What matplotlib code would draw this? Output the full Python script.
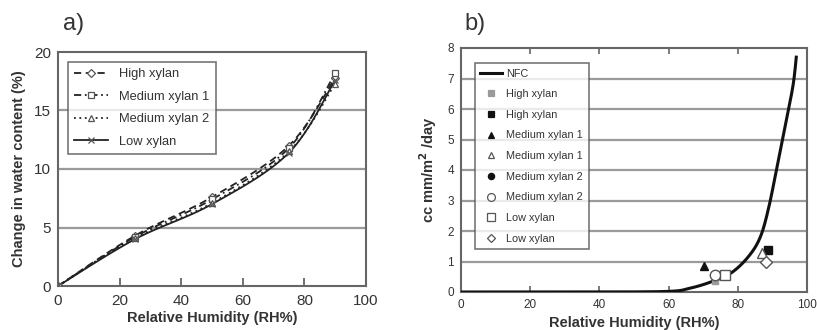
import numpy as np
import matplotlib
matplotlib.use("Agg")
import matplotlib.pyplot as plt
from matplotlib.lines import Line2D

plt.rcParams['font.family'] = ['Liberation Sans', 'DejaVu Sans']

# ---------- data: panel a ----------
rh_a = [0, 25, 50, 75, 90]
high_xylan = [0, 4.3, 7.6, 12.0, 17.8]
medium_xylan_1 = [0, 4.2, 7.4, 11.8, 18.2]
medium_xylan_2 = [0, 4.1, 7.1, 11.5, 17.3]
low_xylan = [0, 4.0, 7.0, 11.4, 17.6]
series_a_labels = ["High xylan", "Medium xylan 1", "Medium xylan 2", "Low xylan"]

# ---------- data: panel b ----------
nfc_x = [0, 20, 40, 60, 66, 72, 78, 83, 86.5, 89, 91.5, 94, 96, 96.9]
nfc_y = [0, 0, 0, 0.02, 0.12, 0.32, 0.62, 1.15, 1.8, 2.8, 4.2, 5.6, 6.8, 7.7]
pts_labels = ["High xylan", "High xylan", "Medium xylan 1", "Medium xylan 1",
              "Medium xylan 2", "Medium xylan 2", "Low xylan", "Low xylan"]
pts_x = [73.5, 88.7, 70.3, 87.0, 73.7, 73.5, 76.4, 88.2]
pts_y = [0.35, 1.37, 0.84, 1.28, 0.55, 0.57, 0.57, 0.98]

TXT = '#333333'
LINE = '#222222'
GRID = '#9a9a9a'


def smooth(x, y, n=30):
    x = np.asarray(x, float); y = np.asarray(y, float)
    P = np.column_stack([x, y])
    P = np.vstack([P[0], P, P[-1]])
    out = []
    t = np.linspace(0, 1, n)[:, None]
    for i in range(1, len(P) - 2):
        p0, p1, p2, p3 = P[i - 1], P[i], P[i + 1], P[i + 2]
        c1 = p1 + (p2 - p0) / 6
        c2 = p2 - (p3 - p1) / 6
        seg = ((1 - t) ** 3) * p1 + 3 * ((1 - t) ** 2) * t * c1 + 3 * (1 - t) * t ** 2 * c2 + t ** 3 * p2
        out.append(seg if i == 1 else seg[1:])
    out = np.vstack(out)
    return out[:, 0], out[:, 1]


fig = plt.figure(figsize=(8.17, 3.30), dpi=100)

# ---------- panel a ----------
ax = fig.add_axes([58 / 817, 1 - 286 / 330, 308 / 817, 234 / 330])
styles = [
    dict(ls=(0, (4, 2.5)), marker='D', ms=4),
    dict(ls=(0, (4, 2, 1, 2)), marker='s', ms=5),
    dict(ls=(0, (1, 2)), marker='^', ms=5),
    dict(ls='-', marker='x', ms=5),
]
handles = []
for ys, st, lab in zip([high_xylan, medium_xylan_1, medium_xylan_2, low_xylan], styles, series_a_labels):
    sx, sy = smooth(rh_a, ys)
    ax.plot(sx, sy, color=LINE, lw=1.3, ls=st['ls'], zorder=3)
    mfc = 'white' if st['marker'] != 'x' else LINE
    ax.plot(rh_a, ys, ls='none', marker=st['marker'], ms=st['ms'], mfc=mfc, mec='#555555', mew=0.9, zorder=4)
    handles.append(Line2D([], [], color=LINE, lw=1.3, ls=st['ls'], marker=st['marker'], ms=st['ms'],
                          mfc=mfc, mec='#555555', mew=0.9))
ax.set_xlim(0, 100)
ax.set_ylim(0, 20)
ax.set_xticks([0, 20, 40, 60, 80, 100])
ax.set_yticks([0, 5, 10, 15, 20])
for v in [5, 10, 15]:
    ax.axhline(v, color=GRID, lw=1.6, zorder=1)
ax.tick_params(axis='x', direction='in', length=6, width=1.3, color='#666666', labelsize=11, labelcolor=TXT, pad=6)
ax.tick_params(axis='y', length=0, labelsize=11, labelcolor=TXT, pad=5)
for s in ax.spines.values():
    s.set_color('#666666'); s.set_linewidth(1.5)
ax.set_xlabel("Relative Humidity (RH%)", fontsize=10.5, fontweight='bold', color=TXT, labelpad=2)
ax.set_ylabel("Change in water content (%)", fontsize=10.5, fontweight='bold', color=TXT, labelpad=6)
leg = ax.legend(handles, series_a_labels, loc='upper left', bbox_to_anchor=(0.01, 0.985), fontsize=9.3,
                handlelength=2.6, labelspacing=0.8, borderpad=0.5, fancybox=False, frameon=True,
                edgecolor='#555555', labelcolor=TXT, handletextpad=0.9)
leg.get_frame().set_linewidth(1.2)
fig.text(63 / 817, 1 - 30 / 330, "a)", fontsize=17, color=TXT)

# ---------- panel b ----------
bx = fig.add_axes([461 / 817, 1 - 292 / 330, 346 / 817, 244 / 330])
for v in range(1, 8):
    bx.axhline(v, color=GRID, lw=1.6, zorder=1)
nx, ny = smooth(nfc_x, nfc_y, n=20)
bx.plot(nx, ny, color='#111111', lw=2.2, zorder=3, label="NFC")
markers_b = [
    dict(marker='s', mfc='#9a9a9a', mec='#9a9a9a', ms=5),
    dict(marker='s', mfc='#111111', mec='#111111', ms=5.5),
    dict(marker='^', mfc='#111111', mec='#111111', ms=6),
    dict(marker='^', mfc='white', mec='#555555', ms=6.5),
    dict(marker='o', mfc='#111111', mec='#111111', ms=6),
    dict(marker='o', mfc='white', mec='#555555', ms=7.5),
    dict(marker='s', mfc='white', mec='#555555', ms=7.5),
    dict(marker='D', mfc='white', mec='#555555', ms=6),
]
order = [4, 0, 1, 2, 3, 5, 6, 7]
for i in order:
    m = markers_b[i]
    bx.plot([pts_x[i]], [pts_y[i]], ls='none', marker=m['marker'], ms=m['ms'], mfc=m['mfc'], mec=m['mec'],
            mew=1.0, zorder=4)
hb = [Line2D([], [], color='#111111', lw=2.2)]
for m in markers_b:
    hb.append(Line2D([], [], ls='none', marker=m['marker'], ms=m['ms'] * 0.75, mfc=m['mfc'], mec=m['mec'], mew=0.9))
lb = ["NFC"] + pts_labels
leg2 = bx.legend(hb, lb, loc='upper left', bbox_to_anchor=(0.025, 0.96), fontsize=7.8, handlelength=2.0,
                 labelspacing=0.98, borderpad=0.5, fancybox=False, edgecolor='#555555', labelcolor=TXT,
                 handletextpad=0.4)
leg2.get_frame().set_linewidth(1.2)
bx.set_xlim(0, 100)
bx.set_ylim(0, 8)
bx.set_xticks([0, 20, 40, 60, 80, 100])
bx.set_yticks(range(0, 9))
bx.tick_params(axis='x', direction='in', length=4, width=1.2, color='#666666', top=True, labelsize=8.5,
               labelcolor=TXT, pad=5)
bx.tick_params(axis='y', length=0, labelsize=8.5, labelcolor=TXT, pad=5)
for s in bx.spines.values():
    s.set_color('#666666'); s.set_linewidth(1.5)
bx.set_xlabel("Relative Humidity (RH%)", fontsize=10.5, fontweight='bold', color=TXT, labelpad=4)
bx.set_ylabel("cc mm/m$^\\mathbf{2}$ /day", fontsize=10.5, fontweight='bold', color=TXT, labelpad=6)
fig.text(464 / 817, 1 - 30 / 330, "b)", fontsize=17, color=TXT)

fig.savefig("out.png", dpi=100)
